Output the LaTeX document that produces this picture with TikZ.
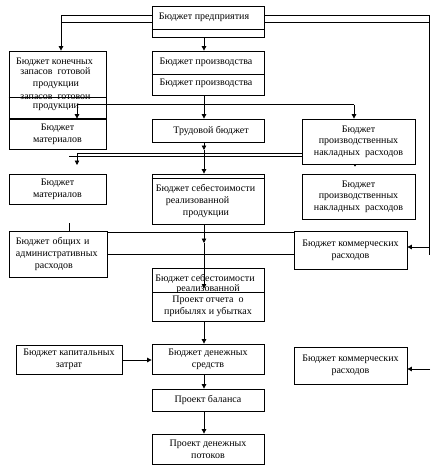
\documentclass[tikz,border=0pt]{standalone}
\usepackage{fontspec}
\setmainfont{Liberation Serif}
\usetikzlibrary{arrows.meta,calc}
\newcommand\dfont{\fontsize{10}{11.6}\selectfont}
\begin{document}
\begin{tikzpicture}[x=1pt,y=-1pt,
  bx/.style={draw, line width=0.8pt, inner sep=0pt, align=center, font=\dfont},
  arr/.style={line width=0.8pt,-{Triangle[length=4.5pt,width=4.5pt]}},
  ln/.style={line width=0.8pt},
  txt/.style={inner sep=0pt, anchor=base, font=\dfont}]
\fill[white] (0,0) rectangle (444,467);
\useasboundingbox (0,0) rectangle (444,467);
\coordinate (vx) at (204,0);
% boxes
\node[bx, minimum width=112pt, minimum height=31pt] (A) at (208,21.5) {};
\draw[ln] (A.west |- 0,29) -- (A.east |- 0,29);
\node[txt] (At) at (204,19.5) {Бюджет предприятия};

\node[bx, minimum width=112pt, minimum height=44pt] (B) at (208,73) {};
\draw[ln] (B.west |- 0,74) -- (B.east |- 0,74);
\node[txt] (Bt1) at (206,64.5) {Бюджет производства};
\node[txt] (Bt2) at (206,85.5) {Бюджет производства};

\node[bx, minimum width=97pt, minimum height=67pt] (C) at (57.5,84.5) {};
\node[txt] (Ct1) at (54.5,64.5) {Бюджет конечных};
\node[txt] (Ct2) at (55.5,74.8) {запасов~ готовой};
\node[txt] (Ct3) at (56,86.8) {продукции};
\begin{scope}
\clip (9,94) rectangle (106,118);
\node[txt] (Ct4) at (55.5,99.5) {запасов~ готовой};
\end{scope}
\draw[ln] (C.west |- 0,97) -- (C.east |- 0,97);
\node[txt] (Ct5) at (56,108.5) {продукции};

\node[bx, minimum width=97pt, minimum height=30pt] (D) at (57.5,134) {Бюджет\\материалов};
\node[bx, minimum width=112pt, minimum height=23pt] (E) at (208,130.5) {\hspace*{6pt}Трудовой бюджет};
\node[bx, minimum width=113pt, minimum height=45pt] (F) at (358.5,141.5) {Бюджет\\производственных\\накладных~ расходов};
\node[bx, minimum width=113pt, minimum height=45pt] (G) at (358.5,196.5) {Бюджет\\производственных\\накладных~ расходов};
\node[bx, minimum width=97pt, minimum height=30pt] (H) at (57.5,189) {Бюджет\\материалов};

\node[bx, minimum width=112pt, minimum height=50pt] (I) at (208,199) {};
\draw[ln] (I.west |- 0,178) -- (I.east |- 0,178);
\node[txt] (It1) at (205.5,191.5) {Бюджет себестоимости};
\node[txt] (It2) at (197.5,203.5) {реализованной};
\node[txt] (It3) at (206,215.5) {продукции};

\node[bx, minimum width=98pt, minimum height=46pt, text width=84pt, inner xsep=7pt, align=left] (J) at (58,254) {Бюджет общих и\\административных\\\hspace*{19pt}расходов};
\node[bx, minimum width=113pt, minimum height=38pt] (K) at (350.5,250) {Бюджет коммерческих\\расходов};

\node[bx, minimum width=112pt, minimum height=24pt] (L) at (208,280) {};
\begin{scope}
\clip (152,268) rectangle (264,292);
\node[txt] (Lt1) at (205,281.5) {Бюджет себестоимости};
\node[txt] (Lt2) at (208,291) {реализованной};
\end{scope}
\node[bx, minimum width=112pt, minimum height=29pt] (M) at (208,306.5) {Проект отчета~ о\\прибылях и убытках};
\node[bx, minimum width=112pt, minimum height=30pt] (N) at (208,359) {Бюджет денежных\\средств};
\node[bx, minimum width=106pt, minimum height=29pt] (O) at (69,359.5) {Бюджет капитальных\\затрат};
\node[bx, minimum width=112pt, minimum height=22pt] (P) at (208,400) {Проект баланса};
\node[bx, minimum width=112pt, minimum height=30pt] (Q) at (208,449) {Проект денежных\\потоков};
\node[bx, minimum width=113pt, minimum height=37pt] (R) at (350.5,365.5) {Бюджет коммерческих\\расходов};

% connectors
\coordinate (l1) at (61,15);
\draw[ln] (A.west |- 0,15) -- (l1);
\draw[arr] (l1) -- (l1 |- C.north);
\draw[ln] (A.west |- 0,22) -- (61,22);
\coordinate (r1) at (429,15);
\coordinate (r2) at (429,255);
\draw[ln] (A.east |- 0,15) -- (r1) -- (r2);
\draw[ln] (A.east |- 0,22) -- (429,22);
\coordinate (r3) at (429,247);
\draw[arr] (r3) -- (K.east |- r3);

\draw[arr] (A.south -| vx) -- (B.north -| vx);
\draw[arr] (B.south -| vx) -- (E.north -| vx);

\coordinate (h1) at (77,104.5);
\coordinate (h2) at (354,104.5);
\draw[ln] (h1) -- (h2);
\draw[arr] (h1) -- (h1 |- D.north);
\draw[arr] (h2) -- (h2 |- F.north);

\coordinate (m1) at (204,150);
\draw[arr] (E.south -| vx) -- (m1);
\draw[arr] (m1) -- (I.north -| vx);

\coordinate (d1) at (77,153);
\coordinate (d2) at (69,156);
\coordinate (d3) at (77,165);
\draw[ln] (d1) -- (F.west |- d1);
\draw[ln] (d2) -- (F.west |- d2);
\draw[arr] (d1) -- (d3);
\draw[line width=0.5pt,-{Triangle[length=2pt,width=2.5pt]}] (F.south -| 355,0) -- ++(0,2.2);

\coordinate (m2) at (204,243);
\coordinate (m3) at (204,288.5);
\draw[arr] (I.south -| vx) -- (m2);
\draw[arr] (m2) -- (m3);

\coordinate (t1) at (69,223);
\draw[ln] (t1) -- (t1 |- J.north);
\draw[ln] (J.east |- 0,232) -- (K.west |- 0,232);
\draw[ln] (J.east |- 0,254) -- (K.west |- 0,254);

\draw[arr] (M.south -| vx) -- (N.north -| vx);
\draw[arr] (O.east |- 0,360) -- (N.west |- 0,360);
\draw[arr] (N.south -| vx) -- (P.north -| vx);
\draw[arr] (P.south -| vx) -- (Q.north -| vx);
\coordinate (r4) at (430,369);
\draw[arr] (r4) -- (R.east |- r4);
\end{tikzpicture}
\end{document}
